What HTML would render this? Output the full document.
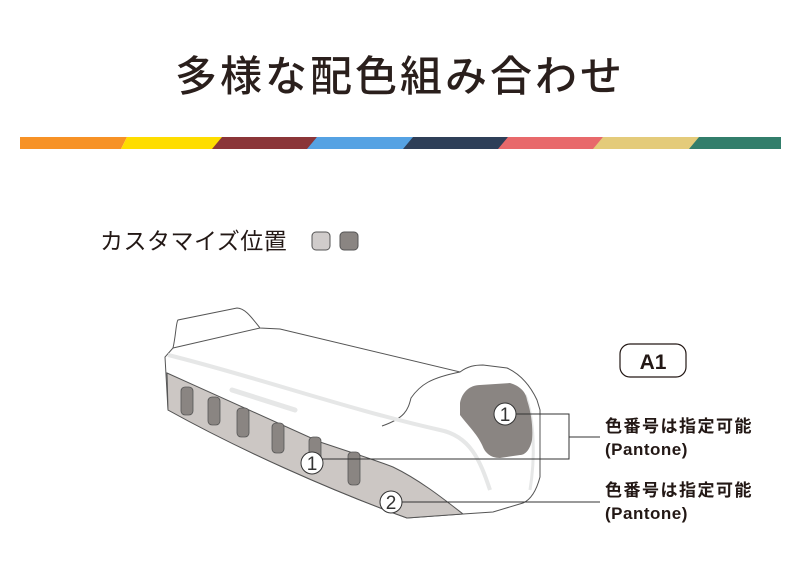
<!DOCTYPE html>
<html><head><meta charset="utf-8"><style>
body{margin:0;background:#fff;width:801px;height:579px;overflow:hidden;font-family:"Liberation Sans","Noto Sans CJK JP",sans-serif;}
</style></head><body>
<svg width="801" height="579" viewBox="0 0 801 579" xmlns="http://www.w3.org/2000/svg" font-family="Liberation Sans, Noto Sans CJK JP, sans-serif">
<text x="400" y="91" text-anchor="middle" font-size="42" fill="#2a1f1c" font-weight="500" letter-spacing="3">多様な配色組み合わせ</text>
<g>
<polygon points="20,137 127,137 121,149 20,149" fill="#f79226"/>
<polygon points="127,137 222,137 216,149 117,149 121,149" fill="#fedd00"/>
<polygon points="222,137 317,137 311,149 212,149" fill="#8b3538"/>
<polygon points="317,137 413,137 407,149 307,149" fill="#55a2e3"/>
<polygon points="413,137 508,137 502,149 403,149" fill="#2e3f58"/>
<polygon points="508,137 603,137 597,149 498,149" fill="#e8696b"/>
<polygon points="603,137 699,137 693,149 593,149" fill="#e4cb7a"/>
<polygon points="699,137 781,137 781,149 689,149" fill="#327e6b"/>
</g>
<text x="100" y="249" font-size="23" fill="#231815" letter-spacing="0.5">カスタマイズ位置</text>
<rect x="312" y="232" width="18" height="18" rx="4" fill="#d0cccb" stroke="#555" stroke-width="1"/>
<rect x="340" y="232" width="18" height="18" rx="4" fill="#8a8582" stroke="#555" stroke-width="1"/>

<path d="M173,348 C176,335 176,322 178,320 L237,308 C245,308 252,318 260,328 L280,329 L460,372 C468,366 475,365 483,365 L507,368 C520,374 530,385 537,400 L540,410 L540,477 C536,492 530,500 523,503 L493,512 L463,514 L407,518 C330,490 240,450 168,410 L165,357 Z" fill="#fff" stroke="#555" stroke-width="1"/>
<path d="M173,348 L260,328" stroke="#555" fill="none" stroke-width="1"/>
<path d="M460,372 C430,378 420,385 411,398 C408,410 405,418 382,426" stroke="#555" fill="none" stroke-width="1"/>
<path d="M168,355 C250,375 350,410 440,430 C470,436 480,460 490,490" stroke="#e6e7e7" fill="none" stroke-width="4"/>
<path d="M232,390 L295,410" stroke="#e6e7e7" fill="none" stroke-width="5" stroke-linecap="round"/>
<path d="M525,395 C535,420 535,460 530,490" stroke="#e6e7e7" fill="none" stroke-width="3"/>
<path d="M167,373 L320,442 C350,452 375,460 393,467 C420,480 445,500 463,514 L407,518 C330,490 240,450 168,410 Z" fill="#ccc7c4" stroke="#555" stroke-width="1"/>
<g fill="#8a8582" stroke="#555" stroke-width="0.8">
<rect x="181" y="387" width="12" height="28" rx="4"/>
<rect x="208" y="397" width="12" height="28" rx="4"/>
<rect x="237" y="408" width="12" height="29" rx="4"/>
<rect x="272" y="423" width="12" height="30" rx="4"/>
<rect x="309" y="437" width="12" height="26" rx="4"/>
<rect x="348" y="452" width="12" height="33" rx="4"/>
</g>
<path d="M460,403 C462,392 470,385 480,385 L510,383 C520,386 526,392 527,400 C532,415 533,430 532,440 C530,450 525,455 520,455 L500,458 C490,458 485,452 483,447 C478,435 470,428 460,415 Z" fill="#8a8582"/>
<g stroke="#333" stroke-width="1" fill="none">
<path d="M514,414 H569 V459 H321"/>
<path d="M569,437 H600"/>
<path d="M400,502 H600"/>
</g>
<g font-size="19" fill="#333" text-anchor="middle">
<circle cx="505" cy="414" r="11" fill="#fff" stroke="#333"/><text x="505" y="421">1</text>
<circle cx="312" cy="463" r="11" fill="#fff" stroke="#333"/><text x="312" y="470">1</text>
<circle cx="391" cy="502" r="11" fill="#fff" stroke="#333"/><text x="391" y="509">2</text>
</g>
<rect x="620" y="344" width="66" height="33" rx="10" fill="#fff" stroke="#231815" stroke-width="1.2"/>
<text x="653" y="369" text-anchor="middle" font-size="21" font-weight="bold" fill="#231815">A1</text>
<g font-size="17" fill="#231815" font-weight="bold" letter-spacing="1.5">
<text x="605" y="432">色番号は指定可能</text>
<text x="605" y="455" letter-spacing="0.5">(Pantone)</text>
<text x="605" y="496">色番号は指定可能</text>
<text x="605" y="519" letter-spacing="0.5">(Pantone)</text>
</g>
</svg>
</body></html>
